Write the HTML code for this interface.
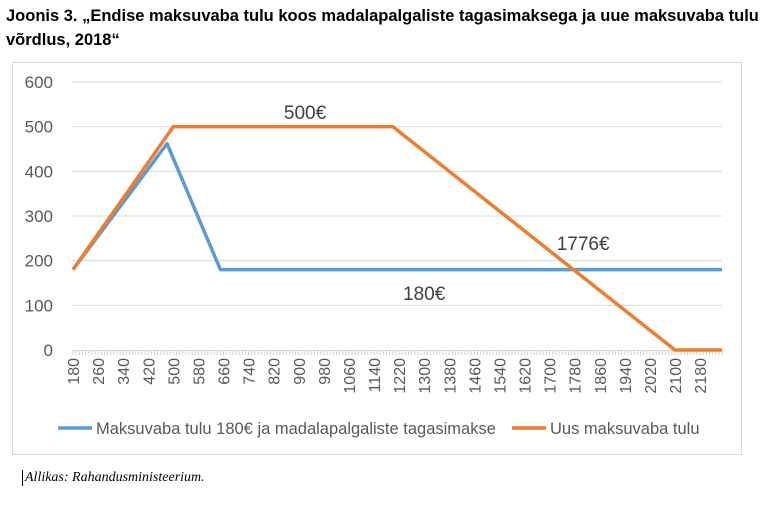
<!DOCTYPE html>
<html><head><meta charset="utf-8"><style>
body{margin:0;background:#fff;width:768px;height:508px;overflow:hidden;font-family:"Liberation Sans",sans-serif}
.t{position:absolute;left:6px;top:4px;font-weight:bold;font-size:16.5px;line-height:24px;color:#000;width:762px}
.src{position:absolute;left:22px;top:470px;font-family:"Liberation Serif",serif;font-style:italic;font-size:14px;color:#000;border-left:1px solid #000;padding-left:2px}
</style></head><body>
<div class="t">Joonis 3. „Endise maksuvaba tulu koos madalapalgaliste tagasimaksega ja uue maksuvaba tulu võrdlus, 2018“</div>
<svg width="768" height="508" style="position:absolute;left:0;top:0" id="c">
<rect x="12.5" y="62.5" width="729" height="392" fill="none" stroke="#d9d9d9"/>
<g id="g"></g>
</svg>
<div class="src">Allikas: Rahandusministeerium.</div>
<script>
const yTicks=[0,100,200,300,400,500,600];
const xLabels=[180,260,340,420,500,580,660,740,820,900,980,1060,1140,1220,1300,1380,1460,1540,1620,1700,1780,1860,1940,2020,2100,2180];
const blueX=[180,480,650,2250];
const blueY=[180,462,180,180];
const orangeX=[180,500,1200,2100,2250];
const orangeY=[180,500,500,0,0];
const annotations=[["500€",920,517],["1776€",1807,224],["180€",1300,112]];
const NS="http://www.w3.org/2000/svg";
const g=document.getElementById('g');
const xs=v=>73+(v-180)*(675-73)/(2100-180);
const ys=v=>350-v*(350-82)/600;
function mk(t,a,txt){const e=document.createElementNS(NS,t);for(const k in a)e.setAttribute(k,a[k]);if(txt!=null)e.textContent=txt;g.appendChild(e);return e;}
yTicks.forEach(v=>{
 if(v>0){const l=mk('line',{x1:72,x2:722,y1:ys(v),y2:ys(v),stroke:'#d9d9d9'});
 
 }
 const t=mk('text',{x:53,y:ys(v)+6,'text-anchor':'end','font-size':17,fill:'#595959'},v);
 
 
});
const ax=mk('line',{x1:72,x2:722,y1:350.5,y2:350.5,stroke:'#d9d9d9'});


for(let v=180;v<=2250;v+=10){const tk=mk('line',{x1:xs(v),x2:xs(v),y1:350,y2:355,stroke:'#d0d0d0'});
 
 }
xLabels.forEach(v=>{
 const x=xs(v)+6;
 const t=mk('text',{x:x,y:358,transform:`rotate(-90 ${x} 358)`,'text-anchor':'end','font-size':16,fill:'#595959'},v);
 
 
});
function line(X,Y,c,n){const p=mk('polyline',{points:X.map((x,i)=>xs(x)+','+ys(Y[i])).join(' '),fill:'none',stroke:c,'stroke-width':3.5,'stroke-linejoin':'round'});
 
 }
line(blueX,blueY,'#5b9bd5','series-old-tax-free');
line(orangeX,orangeY,'#ed7d31','series-new-tax-free');
annotations.forEach(a=>{const t=mk('text',{x:xs(a[1]),y:ys(a[2]),'text-anchor':'middle','font-size':19,fill:'#404040'},a[0]);
 
 });
const l1=mk('line',{x1:58,x2:92,y1:428,y2:428,stroke:'#5b9bd5','stroke-width':3.5});


const t1=mk('text',{x:96,y:434,'font-size':16.5,fill:'#595959'},'Maksuvaba tulu 180€ ja madalapalgaliste tagasimakse');


const l2=mk('line',{x1:512,x2:546,y1:428,y2:428,stroke:'#ed7d31','stroke-width':3.5});


const t2=mk('text',{x:550,y:434,'font-size':16.5,fill:'#595959'},'Uus maksuvaba tulu');


</script>
</body></html>
